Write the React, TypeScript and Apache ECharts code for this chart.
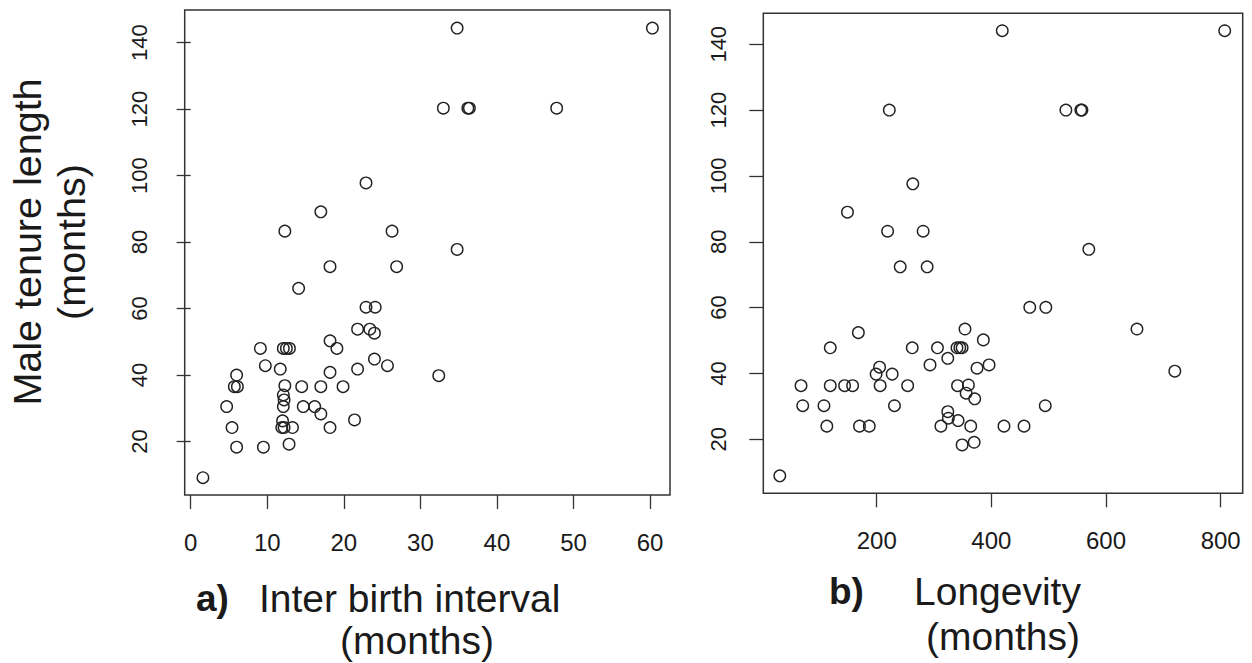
import React, { useEffect, useRef } from "react";
import * as echarts from "echarts";

// Panel a: inter birth interval (months) vs male tenure length (months)
const ibiX = [22.9, 17.0, 12.3, 26.3, 18.2, 26.9, 14.1, 22.9, 24.1, 21.8, 23.4, 24.0, 9.1, 12.1, 12.5, 12.9, 18.2, 19.1, 9.75, 11.7, 18.2, 21.8, 24.0, 25.7, 6.0, 5.7, 6.1, 12.3, 14.5, 17.0, 19.9, 12.1, 12.2, 4.7, 12.1, 14.7, 16.2, 17.0, 21.4, 12.0, 5.4, 11.9, 12.2, 13.3, 18.2, 6.0, 9.5, 12.85, 1.6, 34.8, 60.3, 33.0, 36.2, 36.4, 47.8, 34.8, 32.4];
const ibiTenure = [97.8, 89.1, 83.3, 83.3, 72.6, 72.6, 66.1, 60.4, 60.4, 53.8, 53.8, 52.6, 48.0, 48.0, 48.0, 48.0, 50.3, 48.0, 42.8, 41.8, 40.8, 41.8, 44.8, 42.8, 40.0, 36.5, 36.5, 36.8, 36.5, 36.5, 36.5, 34.0, 32.5, 30.5, 30.5, 30.5, 30.5, 28.3, 26.5, 26.2, 24.2, 24.2, 24.2, 24.2, 24.2, 18.3, 18.3, 19.2, 9.1, 144.4, 144.4, 120.3, 120.3, 120.3, 120.3, 77.8, 39.8];

// Panel b: longevity (months) vs male tenure length (months)
const lonX = [419, 807, 222, 530, 556, 558, 263, 149, 219, 281, 570, 241, 288, 467, 495, 654, 354, 386, 168, 119, 262, 306, 340, 345, 349, 324, 293, 375, 396, 205, 199, 227, 720, 68, 119, 144, 158, 206, 254, 341, 360, 356, 371, 71, 108, 231, 494, 324, 325, 342, 113, 170, 187, 312, 364, 422, 457, 349, 370, 31];
const lonTenure = [144.1, 144.1, 120.0, 120.0, 120.0, 120.0, 97.6, 89.0, 83.2, 83.2, 77.7, 72.4, 72.4, 60.1, 60.1, 53.5, 53.5, 50.2, 52.4, 47.8, 47.8, 47.8, 47.8, 47.8, 47.8, 44.6, 42.6, 41.6, 42.6, 41.9, 39.8, 39.8, 40.7, 36.3, 36.3, 36.3, 36.3, 36.3, 36.3, 36.3, 36.5, 34.0, 32.3, 30.2, 30.2, 30.2, 30.2, 28.4, 26.4, 25.7, 24.0, 24.0, 24.0, 24.0, 24.0, 24.0, 24.0, 18.3, 19.1, 8.9];

const yTicks = [20, 40, 60, 80, 100, 120, 140];
const ibiTicks = [0, 10, 20, 30, 40, 50, 60];
const lonTicks = [200, 400, 600, 800];

const FONT = "'Liberation Sans', Arial, Helvetica, sans-serif";
const INK = "#1a1a1a";

export default function App() {
  const ref = useRef<HTMLDivElement>(null);
  useEffect(() => {
    if (!ref.current) return;
    const chart = echarts.init(ref.current, null, { renderer: "svg" });
    const tickStyle = { show: true, inside: false, length: 14, lineStyle: { color: "#333", width: 1.3 } };
    const xLabel = { fontSize: 24, color: INK, fontFamily: FONT, margin: 35 };
    const yLabel = { fontSize: 22, color: INK, fontFamily: FONT, margin: 34, rotate: 90 };
    const sym = {
      type: "scatter" as const,
      symbol: "circle",
      symbolSize: 11.5,
      itemStyle: { color: "rgba(0,0,0,0)", borderColor: "#222", borderWidth: 1.4, opacity: 1 },
      emphasis: { disabled: true },
    };
    chart.setOption({
      animation: false,
      backgroundColor: "#ffffff",
      grid: [
        { left: 184.7, top: 10, width: 485.3, height: 485, show: true, borderColor: "#333", borderWidth: 1.5, backgroundColor: "transparent" },
        { left: 763.3, top: 13.3, width: 479.4, height: 480, show: true, borderColor: "#333", borderWidth: 1.5, backgroundColor: "transparent" },
      ],
      xAxis: [
        {
          type: "value", gridIndex: 0, min: -0.78, max: 62.6,
          axisLine: { show: false }, splitLine: { show: false },
          axisTick: { ...tickStyle, customValues: ibiTicks },
          axisLabel: { ...xLabel, customValues: ibiTicks },
        },
        {
          type: "value", gridIndex: 1, min: 2.2, max: 838.4,
          axisLine: { show: false }, splitLine: { show: false },
          axisTick: { ...tickStyle, customValues: lonTicks },
          axisLabel: { ...xLabel, customValues: lonTicks },
        },
      ],
      yAxis: [
        {
          type: "value", gridIndex: 0, min: 3.9, max: 149.84,
          axisLine: { show: false }, splitLine: { show: false },
          axisTick: { ...tickStyle, customValues: yTicks },
          axisLabel: { ...yLabel, customValues: yTicks },
        },
        {
          type: "value", gridIndex: 1, min: 3.6, max: 149.4,
          axisLine: { show: false }, splitLine: { show: false },
          axisTick: { ...tickStyle, customValues: yTicks },
          axisLabel: { ...yLabel, customValues: yTicks },
        },
      ],
      series: [
        { ...sym, xAxisIndex: 0, yAxisIndex: 0, data: ibiX.map((x, i) => [x, ibiTenure[i]]) },
        { ...sym, xAxisIndex: 1, yAxisIndex: 1, data: lonX.map((x, i) => [x, lonTenure[i]]) },
      ],
      graphic: [
        {
          type: "text", x: 49, y: 242, rotation: Math.PI / 2,
          style: {
            text: "Male tenure length\n(months)", fontSize: 39.5, lineHeight: 44, fontFamily: FONT,
            fill: INK, align: "center", verticalAlign: "middle",
          },
        },
        { type: "text", x: 196, y: 598, style: { text: "a)", fontSize: 37, fontWeight: "bold", fontFamily: FONT, fill: INK, align: "left", verticalAlign: "middle" } },
        { type: "text", x: 259, y: 598, style: { text: "Inter birth interval", fontSize: 39, fontFamily: FONT, fill: INK, align: "left", verticalAlign: "middle" } },
        { type: "text", x: 417, y: 640, style: { text: "(months)", fontSize: 39, fontFamily: FONT, fill: INK, align: "center", verticalAlign: "middle" } },
        { type: "text", x: 829, y: 591, style: { text: "b)", fontSize: 37, fontWeight: "bold", fontFamily: FONT, fill: INK, align: "left", verticalAlign: "middle" } },
        { type: "text", x: 914, y: 591, style: { text: "Longevity", fontSize: 39, fontFamily: FONT, fill: INK, align: "left", verticalAlign: "middle" } },
        { type: "text", x: 1003, y: 636, style: { text: "(months)", fontSize: 39, fontFamily: FONT, fill: INK, align: "center", verticalAlign: "middle" } },
      ],
    });
    return () => chart.dispose();
  }, []);
  return (
    <div
      ref={ref}
      style={{ position: "fixed", left: 0, top: 0, width: 1252, height: 663, background: "#fff" }}
    />
  );
}
